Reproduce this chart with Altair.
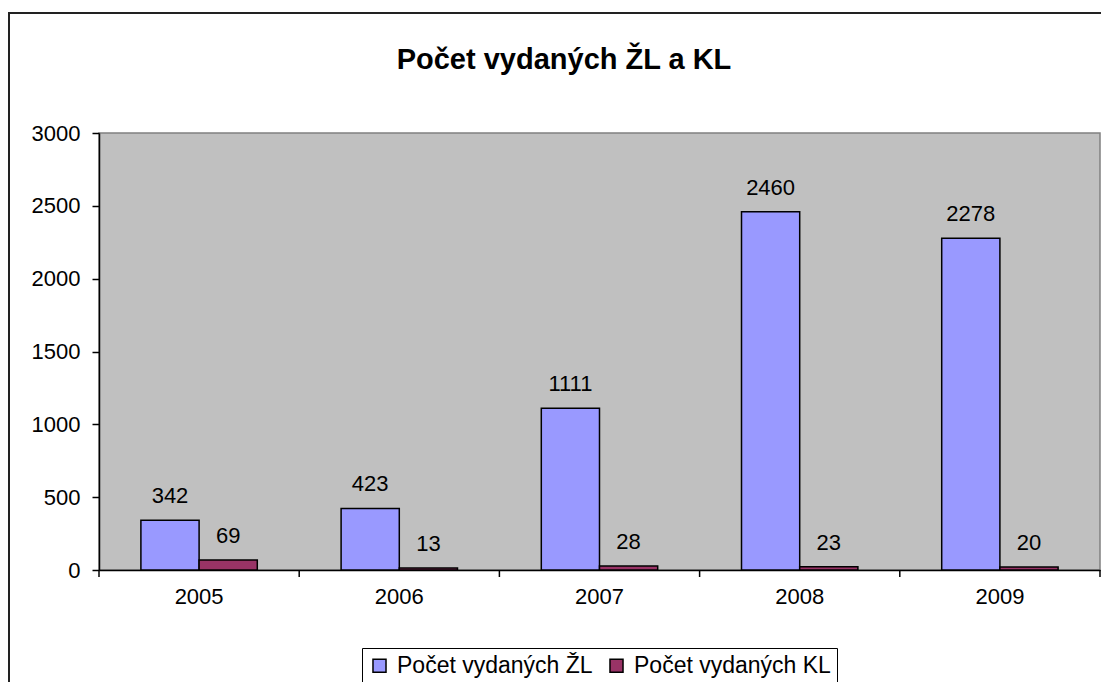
import altair as alt
import pandas as pd

years = ["2005", "2006", "2007", "2008", "2009"]
zl_values = [342, 423, 1111, 2460, 2278]
kl_values = [69, 13, 28, 23, 20]
series_names = ["Počet vydaných ŽL", "Počet vydaných KL"]
series_colors = ["#9999FF", "#993366"]
y_ticks = [0, 500, 1000, 1500, 2000, 2500, 3000]
title_text = "Počet vydaných ŽL a KL"

rows = []
for i, y in enumerate(years):
    rows.append({"year": y, "series": series_names[0], "value": zl_values[i]})
    rows.append({"year": y, "series": series_names[1], "value": kl_values[i]})
df = pd.DataFrame(rows)

W, H = 1001, 437
FONT = "Liberation Sans"

x_enc = alt.X(
    "year:N",
    sort=years,
    scale=alt.Scale(paddingInner=0, paddingOuter=0),
    axis=alt.Axis(
        title=None, labelAngle=0, ticks=False, domain=True, domainColor="black",
        domainWidth=1.5, labelFontSize=22, labelPadding=16, labelColor="black",
    ),
)
xoff = alt.XOffset("series:N", sort=series_names,
                   scale=alt.Scale(paddingOuter=0.72, paddingInner=0))
y_enc = alt.Y(
    "value:Q",
    scale=alt.Scale(domain=[0, 3000], nice=False),
    axis=alt.Axis(
        title=None, values=y_ticks, grid=False, tickSize=7, tickColor="black",
        tickWidth=1.5, domainColor="black", domainWidth=1.5, labelFontSize=22,
        labelPadding=12, labelColor="black", format="d",
    ),
)

bars = alt.Chart(df).mark_bar(stroke="black", strokeWidth=1.5).encode(
    x=x_enc,
    xOffset=xoff,
    y=y_enc,
    color=alt.Color(
        "series:N", sort=series_names,
        scale=alt.Scale(domain=series_names, range=series_colors),
        legend=alt.Legend(
            title=None, orient="none", legendX=263, legendY=515,
            direction="horizontal", symbolType="square", symbolSize=170,
            symbolStrokeColor="black", symbolStrokeWidth=1.5,
            labelFontSize=23, labelColor="black", labelOffset=6,
            labelLimit=400, columnPadding=12, padding=6, strokeColor="black",
            fillColor="white",
        ),
    ),
)

labels = alt.Chart(df).mark_text(
    fontSize=22, dy=-17, baseline="alphabetic", color="black"
).encode(
    x=alt.X("year:N", sort=years),
    xOffset=alt.XOffset("series:N", sort=series_names),
    y="value:Q",
    text="value:Q",
)

ticks = alt.Chart(pd.DataFrame({"year": years})).mark_rule(
    color="black", strokeWidth=1.5
).encode(
    x=alt.X("year:N", sort=years, bandPosition=0),
    y=alt.value(H),
    y2=alt.value(H + 7),
)
end_tick = alt.Chart(pd.DataFrame({"year": [years[-1]]})).mark_rule(
    color="black", strokeWidth=1.5
).encode(x=alt.value(W), y=alt.value(H), y2=alt.value(H + 7))

border = alt.Chart(pd.DataFrame({"k": [0]})).mark_rect(
    fill=None, stroke="#222222", strokeWidth=2
).encode(
    x=alt.value(-90), x2=alt.value(W + 30),
    y=alt.value(-120), y2=alt.value(H + 160),
)

title = alt.Chart(pd.DataFrame({"t": [title_text]})).mark_text(
    fontSize=29, fontWeight="bold", font=FONT, color="black",
    align="center", baseline="alphabetic",
).encode(x=alt.value(465), y=alt.value(-64), text="t:N")

chart = alt.layer(border, title, bars, labels, ticks, end_tick).properties(
    width=W, height=H,
    autosize=alt.AutoSizeParams(type="none"),
    padding={"left": 91, "top": 125, "right": 1, "bottom": 112},
).configure(
    font=FONT, background="white",
).configure_view(
    fill="#C0C0C0", stroke="#808080", strokeWidth=1.5,
)

chart.save("out.html", embed_options={"renderer": "svg", "actions": False})
